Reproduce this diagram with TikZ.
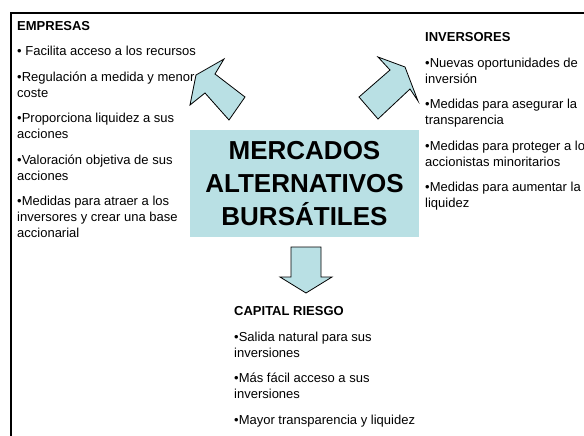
\documentclass[tikz,border=0pt]{standalone}
\usepackage{fontspec}
\setmainfont{Liberation Sans}
\definecolor{marketblue}{RGB}{185,224,228}

\begin{document}
\begin{tikzpicture}[x=1pt, y=-1pt,
    box/.style={rectangle, fill=marketblue, minimum width=229pt, minimum height=107pt, align=center, font=\fontsize{26}{33}\selectfont\bfseries},
    list/.style={anchor=north west, inner sep=0pt, align=left, font=\fontsize{13}{16}\selectfont},
    bigarrow/.style={draw=black, fill=marketblue, line width=0.8pt, line join=miter}
  ]
    \useasboundingbox (0,0) rectangle (584,436);

    % Frame
    \draw[line width=1.5pt] (11,436) |- (584,13);

    % Boxes
    \node[box] (market) at (304.5,183.5) {MERCADOS\\ALTERNATIVOS\\BURSÁTILES};

    % Lists
    \node[list] (firms) at (17,21) {\textbf{EMPRESAS}\\[9.5pt]
      • Facilita acceso a los recursos\\[9.5pt]
      •Regulación a medida y menor\\coste\\[9.5pt]
      •Proporciona liquidez a sus\\acciones\\[9.5pt]
      •Valoración objetiva de sus\\acciones\\[9.5pt]
      •Medidas para atraer a los\\inversores y crear una base\\accionarial};
    \node[list] (investors) at (425,32.5) {\textbf{INVERSORES}\\[9.5pt]
      •Nuevas oportunidades de\\inversión\\[9.5pt]
      •Medidas para asegurar la\\transparencia\\[9.5pt]
      •Medidas para proteger a los\\accionistas minoritarios\\[9.5pt]
      •Medidas para aumentar la\\liquidez};
    \node[list] (venture) at (234,306.5) {\textbf{CAPITAL RIESGO}\\[9.5pt]
      •Salida natural para sus\\inversiones\\[9.5pt]
      •Más fácil acceso a sus\\inversiones\\[9.5pt]
      •Mayor transparencia y liquidez};

    % Arrows
    \draw[bigarrow] (224,59) -- (196,75) -- (190,105) -- (205,93) -- (229,120) -- (245,97) -- (215,74) -- cycle;
    \draw[bigarrow] (378,57) -- (405,67) -- (418,101) -- (410,89) -- (378,119) -- (359,97) -- (390,70) -- cycle;
    \draw[bigarrow] (291,247) -- (321,247) -- (321,277) -- (332,277) -- (306,293) -- (280,277) -- (291,277) -- cycle;
  \end{tikzpicture}
\end{document}
